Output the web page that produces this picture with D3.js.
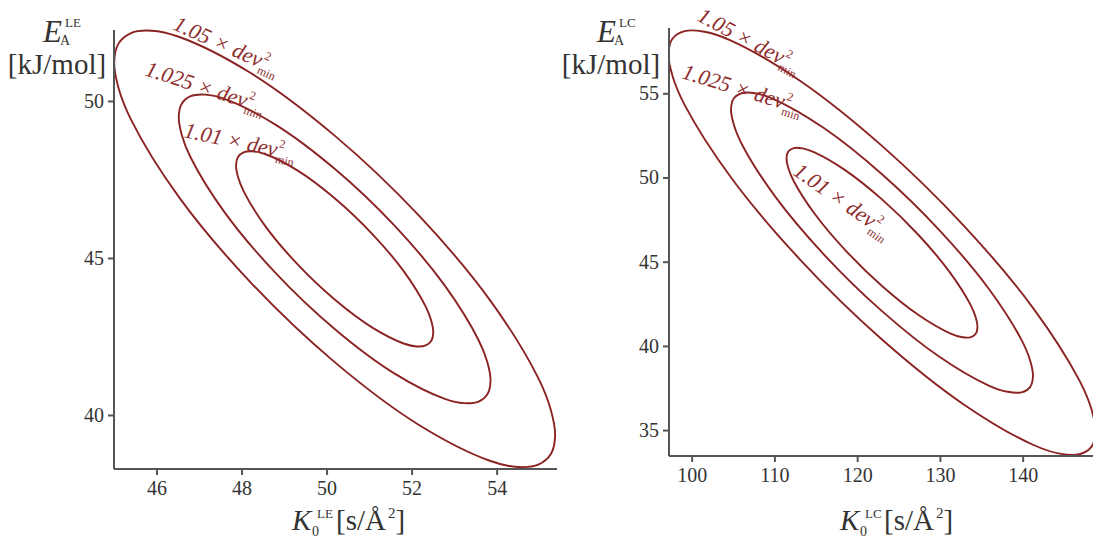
<!DOCTYPE html>
<html><head><meta charset="utf-8">
<script src="https://cdn.jsdelivr.net/npm/d3@7"></script>
<style>
body{margin:0;background:#fff;}
svg{display:block;}
.axis text{font-family:"Liberation Serif","Times New Roman",Times,"DejaVu Serif",serif;font-size:20px;fill:#333;}
.axis path,.axis line{stroke:#555;stroke-width:2px;}
</style></head>
<body>
<svg id="chart" width="1093" height="544"></svg>
<script>
// ----- data -----
const leftXDomain = [45, 55.42];
const leftYDomain = [38.28, 52.26];
const leftXTicks = [46, 48, 50, 52, 54];
const leftYTicks = [40, 45, 50];

const rightXDomain = [97.26, 148.5];
const rightYDomain = [33.46, 58.88];
const rightXTicks = [100, 110, 120, 130, 140];
const rightYTicks = [35, 40, 45, 50, 55];

const contourLevels = ["1.05", "1.025", "1.01"];

// left panel contours: [K0_LE, EA_LE]
const leftOuter = [[55.375,39.342],[55.275,40.161],[54.98,41.175],[53.856,43.635],[52.174,46.346],[50.19,48.896],[48.206,50.897],[46.524,52.045],[45.879,52.238],[45.40,52.164],[45.105,51.826],[45.005,51.238],[45.105,50.419],[45.40,49.405],[46.524,46.945],[48.206,44.234],[50.19,41.684],[52.174,39.683],[53.856,38.535],[54.501,38.342],[54.98,38.416],[55.275,38.754]];
const leftMiddle = [[53.856,41.084],[53.786,41.663],[53.577,42.38],[52.782,44.12],[51.593,46.037],[50.19,47.84],[48.787,49.255],[47.598,50.067],[47.142,50.203],[46.803,50.151],[46.594,49.912],[46.524,49.496],[46.594,48.917],[46.803,48.2],[47.598,46.46],[48.787,44.543],[50.19,42.74],[51.593,41.325],[52.782,40.513],[53.238,40.377],[53.577,40.429],[53.786,40.668]];
const leftInner = [[52.509,42.63],[52.464,42.996],[52.332,43.45],[51.83,44.55],[51.077,45.762],[50.19,46.903],[49.303,47.797],[48.55,48.311],[48.262,48.397],[48.048,48.364],[47.916,48.213],[47.871,47.95],[47.916,47.584],[48.048,47.13],[48.55,46.03],[49.303,44.818],[50.19,43.677],[51.077,42.783],[51.83,42.269],[52.118,42.183],[52.332,42.216],[52.464,42.367]];

// right panel contours: [K0_LC, EA_LC]
const rightOuter = [[148.8,34.907],[148.305,36.246],[146.837,37.964],[141.243,42.26],[132.874,47.148],[123.0,51.88],[113.126,55.736],[104.757,58.132],[101.547,58.656],[99.163,58.698],[97.695,58.259],[97.2,57.353],[97.695,56.014],[99.163,54.296],[104.757,50.0],[113.126,45.112],[123.0,40.38],[132.874,36.524],[141.243,34.128],[144.453,33.604],[146.837,33.562],[148.305,34.001]];
const rightMiddle = [[141.243,38.194],[140.893,39.141],[139.855,40.355],[135.9,43.393],[129.982,46.85],[123.0,50.196],[116.018,52.923],[110.1,54.617],[107.831,54.987],[106.145,55.018],[105.107,54.707],[104.757,54.066],[105.107,53.119],[106.145,51.905],[110.1,48.867],[116.018,45.41],[123.0,42.064],[129.982,39.337],[135.9,37.643],[138.169,37.273],[139.855,37.242],[140.893,37.553]];
const rightInner = [[134.538,41.111],[134.316,41.71],[133.66,42.478],[131.159,44.399],[127.416,46.585],[123.0,48.701],[118.584,50.426],[114.841,51.497],[113.406,51.731],[112.34,51.75],[111.684,51.554],[111.462,51.149],[111.684,50.55],[112.34,49.782],[114.841,47.861],[118.584,45.675],[123.0,43.559],[127.416,41.834],[131.159,40.763],[132.594,40.529],[133.66,40.51],[134.316,40.706]];

// ----- drawing -----
const svg = d3.select("#chart");
const color = "#8b2323";
const labelColor = "#8e2d2d";
const serif = '"Liberation Serif","Times New Roman",Times,"DejaVu Serif",serif';

function panel(opts){
  const {x0,x1,y0,y1,xd,yd,xt,yt,contours,id,labels,xSup,ySup,yTitleX,xTitleX} = opts;
  const x = d3.scaleLinear().domain(xd).range([x0,x1]);
  const y = d3.scaleLinear().domain(yd).range([y1,y0]);
  const g = svg.append("g");
  g.append("clipPath").attr("id",id).append("rect")
    .attr("x",x0).attr("y",y0-8).attr("width",x1-x0).attr("height",y1-y0+8);
  const line = d3.line().x(d=>x(d[0])).y(d=>y(d[1])).curve(d3.curveCatmullRomClosed.alpha(0.5));
  g.append("g").attr("clip-path",`url(#${id})`).selectAll("path").data(contours).join("path")
    .attr("d",line).attr("fill","none").attr("stroke",color).attr("stroke-width",1.9);

  g.append("g").attr("class","axis").attr("transform",`translate(0,${y1})`)
    .call(d3.axisBottom(x).tickValues(xt).tickSize(6).tickSizeOuter(0).tickPadding(6))
    .call(a=>a.select(".domain").attr("d",`M${x0},0H${x1}`));
  g.append("g").attr("class","axis").attr("transform",`translate(${x0},0)`)
    .call(d3.axisLeft(y).tickValues(yt).tickSize(6).tickSizeOuter(0).tickPadding(4))
    .call(a=>a.select(".domain").attr("d",`M0,${y0}V${y1}`));

  // contour labels
  labels.forEach((L,i)=>{
    const t = g.append("text").attr("transform",`translate(${L[0]},${L[1]}) rotate(${L[2]})`)
      .attr("font-family",serif).attr("font-size",22).attr("fill",labelColor).attr("font-style","italic");
    t.append("tspan").text(contourLevels[i]+" × dev");
    t.append("tspan").attr("font-size",12).attr("font-style","normal").attr("dy",-10).attr("dx",1).text("2");
    t.append("tspan").attr("font-size",12).attr("font-style","normal").attr("dy",16).attr("dx",-7).text("min");
  });

  // y title
  g.append("text").attr("x",yTitleX).attr("y",42).attr("font-family",serif).attr("font-size",31)
    .attr("font-style","italic").attr("fill","#333").text("E");
  g.append("text").attr("x",yTitleX+22).attr("y",27).attr("font-family",serif).attr("font-size",13)
    .attr("fill","#333").text(ySup);
  g.append("text").attr("x",yTitleX+17).attr("y",45).attr("font-family",serif).attr("font-size",14)
    .attr("fill","#333").text("A");
  g.append("text").attr("x",yTitleX+14).attr("y",74).attr("text-anchor","middle").attr("font-family",serif)
    .attr("font-size",29).attr("fill","#333").text("[kJ/mol]");

  // x title
  g.append("text").attr("x",xTitleX).attr("y",530).attr("font-family",serif).attr("font-size",29)
    .attr("font-style","italic").attr("fill","#333").text("K");
  g.append("text").attr("x",xTitleX+20).attr("y",536).attr("font-family",serif).attr("font-size",14)
    .attr("fill","#333").text("0");
  g.append("text").attr("x",xTitleX+25).attr("y",518).attr("font-family",serif).attr("font-size",13)
    .attr("fill","#333").text(xSup);
  const xt2 = g.append("text").attr("x",xTitleX+44).attr("y",530).attr("font-family",serif).attr("font-size",29).attr("fill","#333");
  xt2.append("tspan").text("[s/Å");
  xt2.append("tspan").attr("font-size",15).attr("dy",-12).attr("dx",2).text("2");
  xt2.append("tspan").attr("dy",12).text("]");
}

panel({x0:114,x1:557,y0:30,y1:469,xd:leftXDomain,yd:leftYDomain,xt:leftXTicks,yt:leftYTicks,
  contours:[leftOuter,leftMiddle,leftInner],id:"clipL",
  labels:[[172,29,24],[144,75,18],[183,137,12]],xSup:"LE",ySup:"LE",yTitleX:43,xTitleX:292});
panel({x0:669,x1:1093,y0:28,y1:456,xd:rightXDomain,yd:rightYDomain,xt:rightXTicks,yt:rightYTicks,
  contours:[rightOuter,rightMiddle,rightInner],id:"clipR",
  labels:[[696,20,28],[681,78,17],[792,174,35]],xSup:"LC",ySup:"LC",yTitleX:597,xTitleX:840});
</script>
</body></html>
